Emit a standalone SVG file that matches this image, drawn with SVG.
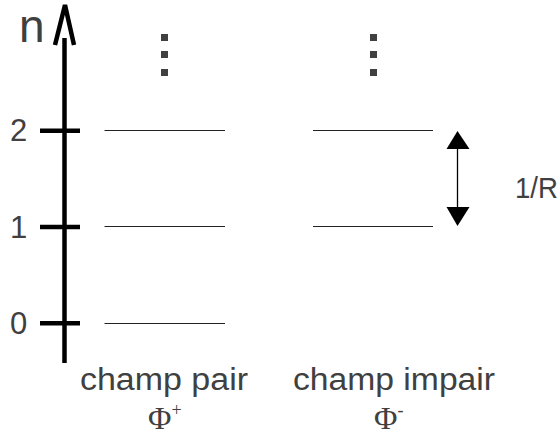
<svg xmlns="http://www.w3.org/2000/svg" width="560" height="440" viewBox="0 0 560 440">
<style>
.lbl{font-family:"Liberation Sans",Arial,sans-serif;fill:#404040}
.phi{font-family:"Liberation Serif","Times New Roman",serif;fill:#404040}
.lvl{stroke:#222;stroke-width:1}
.dot{fill:#404040}
.ax{stroke:#000;stroke-width:4.5;fill:none}
</style>
<rect width="560" height="440" fill="#fff"/>
<g id="axis">
<line class="ax" x1="64.5" y1="38" x2="64.5" y2="363"/>
<polyline class="ax" points="55,45 65,5 74,45"/>
<line class="ax" x1="40" y1="130.7" x2="80" y2="130.7" stroke-width="4"/>
<line class="ax" x1="40" y1="227" x2="80" y2="227" stroke-width="4"/>
<line class="ax" x1="40" y1="323.3" x2="80" y2="323.3" stroke-width="4"/>
<text class="lbl" x="19" y="42" font-size="46">n</text>
<text class="lbl" x="10" y="141" font-size="31">2</text>
<text class="lbl" x="10" y="238" font-size="31">1</text>
<text class="lbl" x="10" y="334" font-size="31">0</text>
</g>
<g id="even">
<line class="lvl" x1="104.5" y1="130.5" x2="225" y2="130.5"/>
<line class="lvl" x1="104.5" y1="226.5" x2="225" y2="226.5"/>
<line class="lvl" x1="104.5" y1="323.5" x2="225" y2="323.5"/>
<rect class="dot" x="161" y="34" width="7" height="7"/>
<rect class="dot" x="161" y="51" width="7" height="7"/>
<rect class="dot" x="161" y="69" width="7" height="7"/>
<text class="lbl" x="80" y="390" font-size="31" textLength="168" lengthAdjust="spacingAndGlyphs">champ pair</text>
<text class="phi" x="148" y="429" font-size="32">Φ<tspan font-size="18" dy="-13">+</tspan></text>
</g>
<g id="odd">
<line class="lvl" x1="313" y1="130.5" x2="433" y2="130.5"/>
<line class="lvl" x1="313" y1="226.5" x2="433" y2="226.5"/>
<rect class="dot" x="370" y="34" width="7" height="7"/>
<rect class="dot" x="370" y="51" width="7" height="7"/>
<rect class="dot" x="370" y="69" width="7" height="7"/>
<text class="lbl" x="293" y="390" font-size="31" textLength="202" lengthAdjust="spacingAndGlyphs">champ impair</text>
<text class="phi" x="374" y="429" font-size="32">Φ<tspan font-size="18" dy="-13">-</tspan></text>
</g>
<g id="connectors">
<line x1="457.5" y1="145" x2="457.5" y2="212" stroke="#000" stroke-width="1.3"/>
<polygon points="457.5,131 446.5,149 469.5,149" fill="#000"/>
<polygon points="457.5,226 446.5,207 469.5,207" fill="#000"/>
<text class="lbl" x="515" y="198" font-size="29" textLength="43" lengthAdjust="spacingAndGlyphs">1/R</text>
</g>
</svg>
